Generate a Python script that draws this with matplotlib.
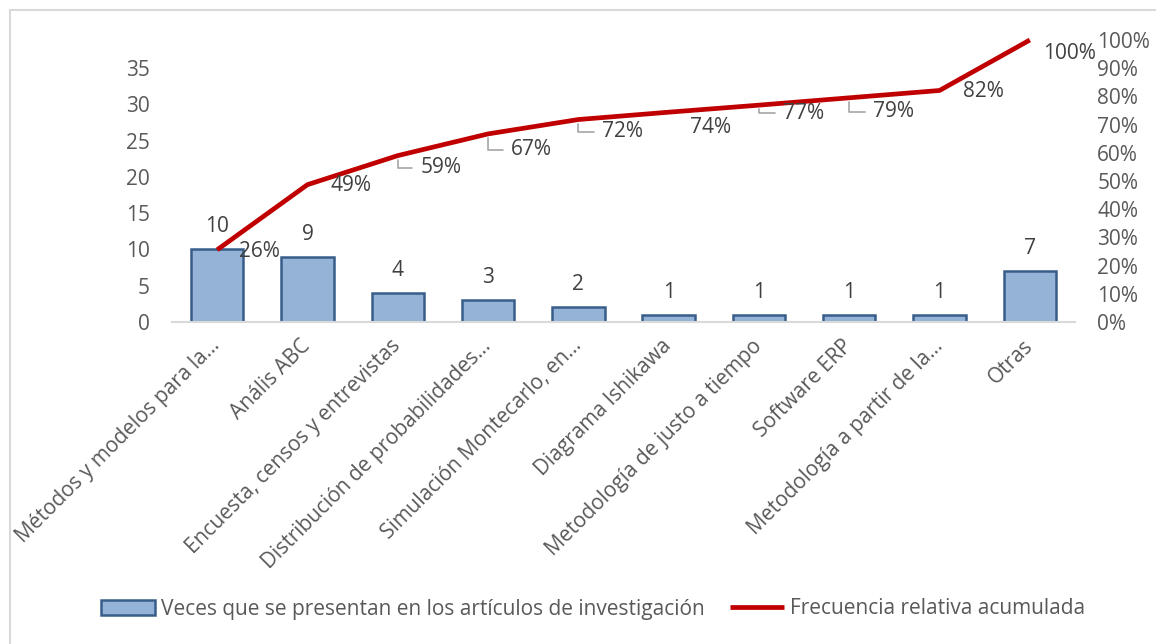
import numpy as np
import matplotlib.pyplot as plt
from matplotlib.ticker import PercentFormatter
from matplotlib.transforms import ScaledTranslation

categorias = ['Métodos y modelos para la...', 'Anális ABC', 'Encuesta, censos y entrevistas',
              'Distribución de probabilidades...', 'Simulación Montecarlo, en...',
              'Diagrama Ishikawa', 'Metodología de justo a tiempo', 'Software ERP',
              'Metodología a partir de la...', 'Otras']
veces = [10, 9, 4, 3, 2, 1, 1, 1, 1, 7]
acumulada = [0.256, 0.487, 0.590, 0.667, 0.718, 0.744, 0.769, 0.795, 0.821, 1.0]
etiquetas_pct = ['26%', '49%', '59%', '67%', '72%', '74%', '77%', '79%', '82%', '100%']

# label placement (pixels from point) and whether a leader line is drawn
desfase = [(22, -2), (23, -1), (23, -12), (23, -16), (24, -12), (21, -15),
           (24, -8), (24, -14), (23, -1), (13, -13)]
guia = [False, False, True, True, True, False, True, True, False, False]

plt.rcParams['font.family'] = ['Open Sans', 'DejaVu Sans']
gris = '#595959'
fs = 15

fig = plt.figure(figsize=(11.56, 6.44), dpi=100)
ax = fig.add_axes([172 / 1156, 1 - 322 / 644, (1075 - 172) / 1156, (322 - 40) / 644])
ax2 = ax.twinx()

x = np.arange(len(categorias))
barras = ax.bar(x, veces, width=0.58, color='#95B3D7', edgecolor='#385D8A', linewidth=1.8,
                label='Veces que se presentan en los artículos de investigación', zorder=2)
for xi, v in zip(x, veces):
    ax.annotate(str(v), (xi, v), xytext=(0, 12), textcoords='offset pixels',
                ha='center', va='bottom', fontsize=fs, color='#404040')

linea, = ax2.plot(x, acumulada, color='#C00000', linewidth=3.4, clip_on=False,
                  solid_capstyle='butt', label='Frecuencia relativa acumulada', zorder=3)
for xi, yi, t, d, g in zip(x, acumulada, etiquetas_pct, desfase, guia):
    props = None
    if g:
        props = dict(arrowstyle='-', color='#A6A6A6', lw=1.2, shrinkA=4, shrinkB=3,
                     connectionstyle='angle,angleA=0,angleB=90,rad=0')
    ax2.annotate(t, (xi, yi), xytext=d, textcoords='offset pixels', ha='left', va='center',
                 fontsize=fs, color='#404040', arrowprops=props)

ax.set_xlim(-0.5, len(categorias) - 0.5)
ax.set_ylim(0, 38.85)
ax.set_yticks(range(0, 40, 5))
ax2.set_ylim(0, 1)
ax2.set_yticks(np.arange(0, 1.01, 0.1))
ax2.yaxis.set_major_formatter(PercentFormatter(1.0, decimals=0))

ax.set_xticks(x)
ax.set_xticklabels(categorias, rotation=45, ha='right', va='center', rotation_mode='anchor',
                   fontsize=fs, color=gris)
# nudge the rotated labels a little to the right
corrimiento = ScaledTranslation(5 / 100, -2 / 100, fig.dpi_scale_trans)
for lab in ax.get_xticklabels():
    lab.set_transform(lab.get_transform() + corrimiento)
ax.tick_params(axis='x', length=0, pad=15)
ax.tick_params(axis='y', length=0, pad=16, labelsize=fs, labelcolor=gris)
ax2.tick_params(axis='y', length=0, pad=16, labelsize=fs, labelcolor=gris)

for a in (ax, ax2):
    for s in a.spines.values():
        s.set_visible(False)
ax.spines['bottom'].set_visible(True)
ax.spines['bottom'].set_color('#D9D9D9')
ax.spines['bottom'].set_linewidth(1.5)

fig.legend(handles=[barras, linea], loc='center', bbox_to_anchor=(593 / 1156, 1 - 609 / 644),
           ncol=2, frameon=False, fontsize=fs, labelcolor=gris, handlelength=2.6,
           handletextpad=0.3, columnspacing=1.2)

# chart frame (only left/top edges visible in the picture)
fig.add_artist(plt.Line2D([10 / 1156, 10 / 1156], [0, 1 - 10 / 644], color='#D9D9D9', lw=1.5))
fig.add_artist(plt.Line2D([10 / 1156, 1], [1 - 10 / 644, 1 - 10 / 644], color='#D9D9D9', lw=1.5))

fig.savefig('out.png', dpi=100)
